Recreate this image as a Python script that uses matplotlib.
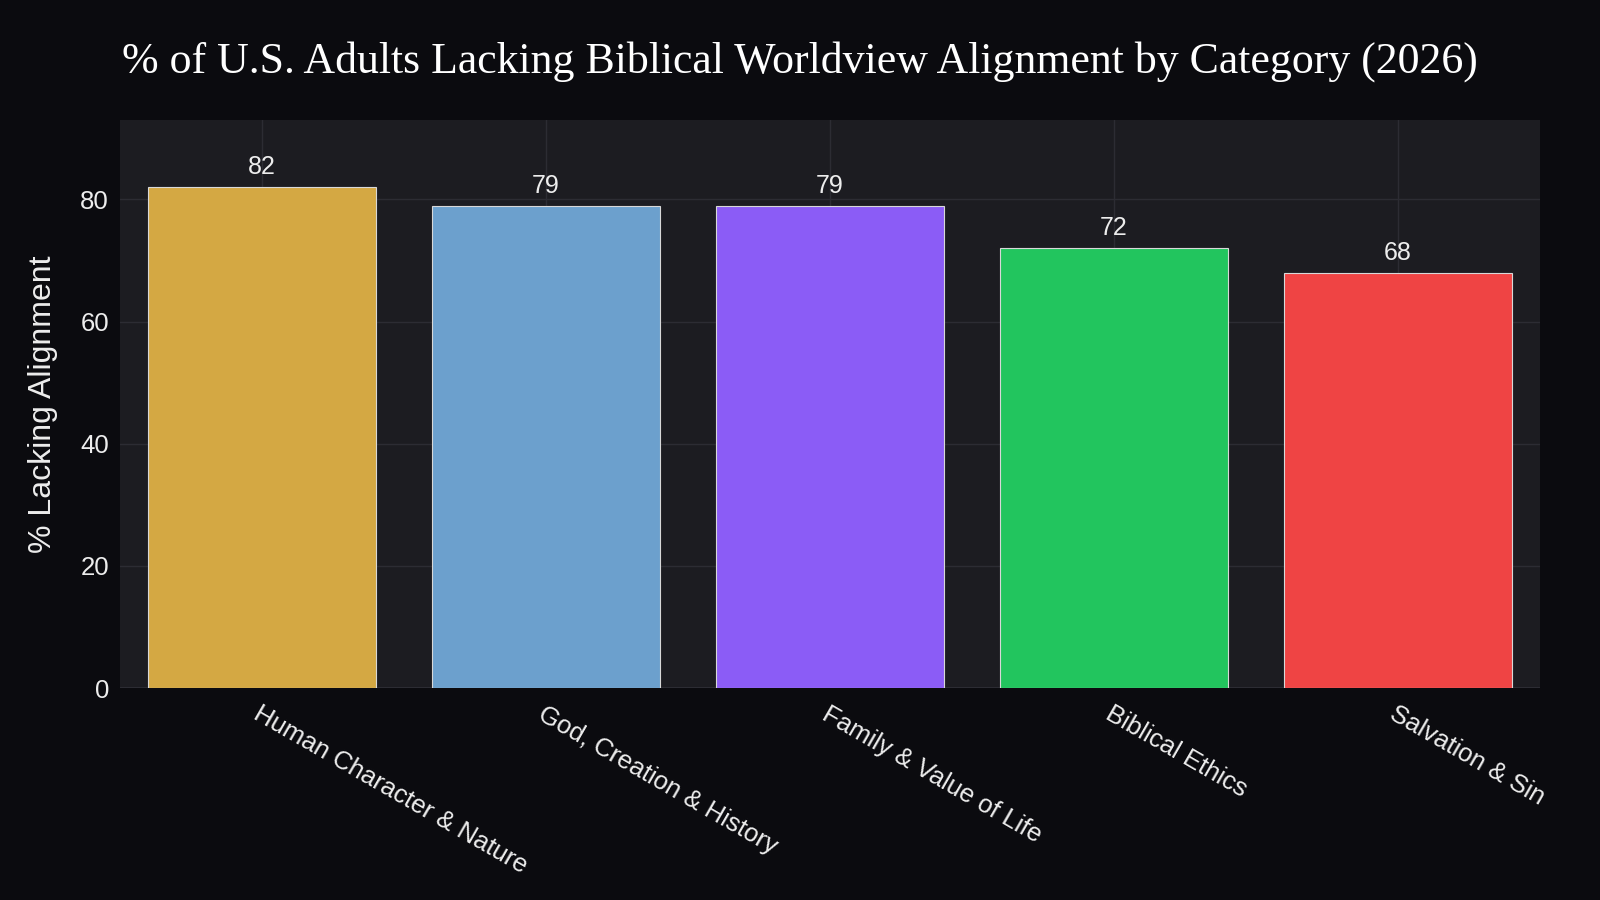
import matplotlib.pyplot as plt

# data
categories = ["Human Character & Nature", "God, Creation & History",
              "Family & Value of Life", "Biblical Ethics", "Salvation & Sin"]
values = [82, 79, 79, 72, 68]
colors = ["#D4A843", "#6CA0CD", "#8B5CF6", "#22C55E", "#EF4444"]
yticks = [0, 20, 40, 60, 80]

fig_bg = "#0B0B0F"
ax_bg = "#1C1C21"
text_c = "#EDEDED"

plt.rcParams['font.family'] = ['Liberation Sans', 'DejaVu Sans']

fig = plt.figure(figsize=(16, 9), dpi=100, facecolor=fig_bg)
ax = fig.add_axes([120 / 1600, 1 - 688 / 900, 1420 / 1600, 568 / 900])
ax.set_facecolor(ax_bg)

x = list(range(len(categories)))
bars = ax.bar(x, values, width=0.8, color=colors, edgecolor="#D8D8D8",
              linewidth=0.8, zorder=3)
for b, v in zip(bars, values):
    ax.text(b.get_x() + b.get_width() / 2, v + 1.3, str(v), ha='center',
            va='bottom', color=text_c, fontsize=18, zorder=4)

ax.set_xlim(-0.5, len(categories) - 0.5)
ax.set_ylim(0, 93)
ax.set_yticks(yticks)
ax.set_xticks(x)
ax.set_xticklabels(categories, rotation=-30, ha='left', rotation_mode='anchor',
                   fontsize=18.5, color=text_c)
ax.tick_params(axis='y', labelsize=18.5, colors=text_c, length=0, pad=8)
ax.tick_params(axis='x', length=0, pad=10)
ax.grid(True, color="#2C2C33", linewidth=1, zorder=0)
for s in ax.spines.values():
    s.set_visible(False)
ax.axhline(0, color="#2C2C33", linewidth=1.5, zorder=2)

ax.set_ylabel("% Lacking Alignment", color=text_c, fontsize=23, labelpad=16)

fig.suptitle("% of U.S. Adults Lacking Biblical Worldview Alignment by Category (2026)",
             y=1 - 62 / 900, va='center', color="white", fontsize=31.6,
             family=['Liberation Serif', 'DejaVu Serif'])

fig.savefig("out.png", dpi=100, facecolor=fig_bg)
